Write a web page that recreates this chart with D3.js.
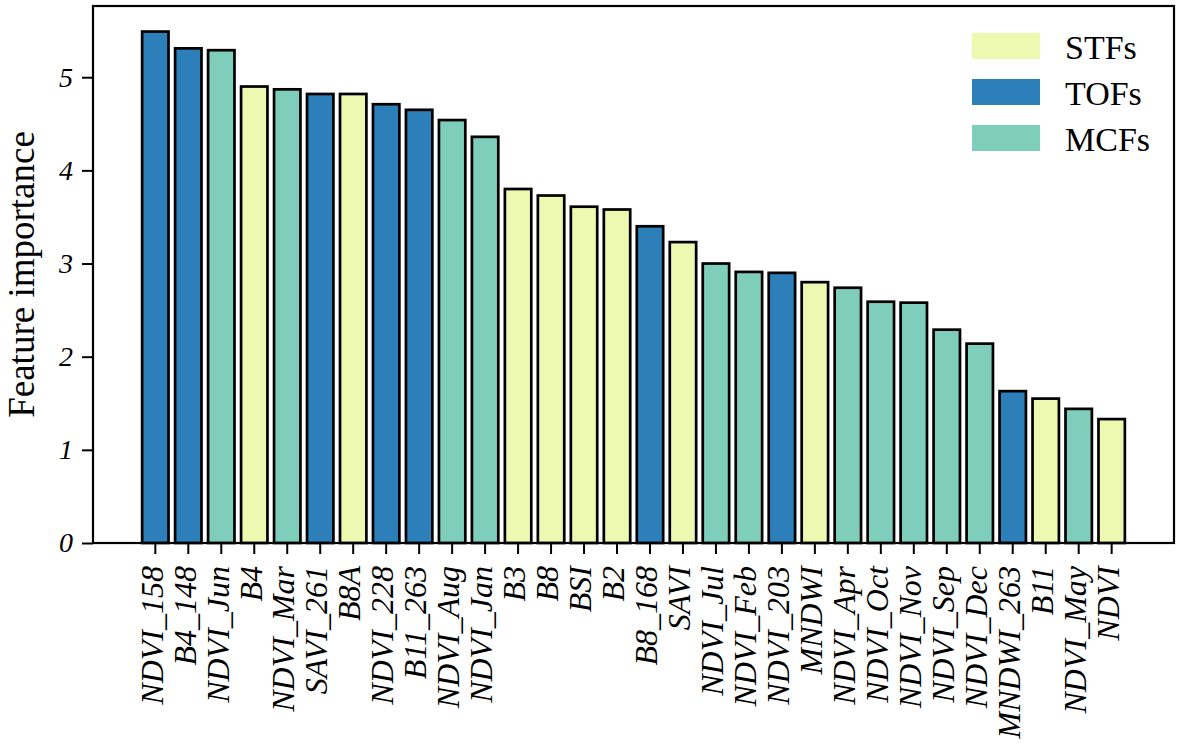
<!DOCTYPE html>
<html>
<head>
<meta charset="utf-8">
<script src="https://cdn.jsdelivr.net/npm/d3@7"></script>
<style>
  body { margin: 0; background: #fff; }
  svg { display: block; font-family: "Liberation Serif", "Times New Roman", serif; }
</style>
</head>
<body>
<svg id="chart"></svg>
<script>
// 1. Data
const features = [
  "NDVI_158", "B4_148", "NDVI_Jun", "B4", "NDVI_Mar", "SAVI_261", "B8A", "NDVI_228",
  "B11_263", "NDVI_Aug", "NDVI_Jan", "B3", "B8", "BSI", "B2", "B8_168", "SAVI",
  "NDVI_Jul", "NDVI_Feb", "NDVI_203", "MNDWI", "NDVI_Apr", "NDVI_Oct", "NDVI_Nov",
  "NDVI_Sep", "NDVI_Dec", "MNDWI_263", "B11", "NDVI_May", "NDVI"
]
const importance = [
  5.49, 5.31, 5.29, 4.90, 4.87, 4.82, 4.82, 4.71,
  4.65, 4.54, 4.36, 3.80, 3.73, 3.61, 3.58, 3.40, 3.23,
  3.00, 2.91, 2.90, 2.80, 2.74, 2.59, 2.58,
  2.29, 2.14, 1.63, 1.55, 1.44, 1.33
]
const groups = [
  "TOFs", "TOFs", "MCFs", "STFs", "MCFs", "TOFs", "STFs", "TOFs",
  "TOFs", "MCFs", "MCFs", "STFs", "STFs", "STFs", "STFs", "TOFs", "STFs",
  "MCFs", "MCFs", "TOFs", "STFs", "MCFs", "MCFs", "MCFs",
  "MCFs", "MCFs", "TOFs", "STFs", "MCFs", "STFs"
]
const legendGroups = ["STFs", "TOFs", "MCFs"]
const yTicks = [0, 1, 2, 3, 4, 5]

const dataset = features.map((f, i) => ({ feature: f, value: importance[i], group: groups[i] }))
const xAccessor = d => d.feature
const yAccessor = d => d.value

// 2. Dimensions
let dimensions = {
  width: 1181,
  height: 746,
  margin: { top: 6, right: 7, bottom: 203, left: 93 },
}
dimensions.boundedWidth = dimensions.width - dimensions.margin.left - dimensions.margin.right
dimensions.boundedHeight = dimensions.height - dimensions.margin.top - dimensions.margin.bottom

// 3. Canvas
const svg = d3.select("#chart")
  .attr("width", dimensions.width)
  .attr("height", dimensions.height)

const bounds = svg.append("g")
  .attr("transform", `translate(${dimensions.margin.left}, ${dimensions.margin.top})`)

// 4. Scales
const xScale = d3.scaleBand()
  .domain(features)
  .range([0, dimensions.boundedWidth])
  .paddingInner(0.2)
  .paddingOuter(1.49)

const yScale = d3.scaleLinear()
  .domain([0, d3.max(importance) * 1.05])
  .range([dimensions.boundedHeight, 0])

const colorScale = d3.scaleOrdinal()
  .domain(legendGroups)
  .range(["#edf8b1", "#2c7fb8", "#7fcdbb"])

// 5. Bars
bounds.selectAll("rect.bar")
  .data(dataset)
  .join("rect")
  .attr("class", "bar")
  .attr("x", d => xScale(xAccessor(d)))
  .attr("width", xScale.bandwidth())
  .attr("y", d => yScale(yAccessor(d)))
  .attr("height", d => dimensions.boundedHeight - yScale(yAccessor(d)))
  .attr("fill", d => colorScale(d.group))
  .attr("stroke", "#000")
  .attr("stroke-width", 2.7)

// 6. Axes
const xAxis = bounds.append("g")
  .attr("transform", `translate(0, ${dimensions.boundedHeight})`)
  .call(d3.axisBottom(xScale).tickSizeOuter(0).tickSize(11).tickPadding(12))
xAxis.select(".domain").remove()
xAxis.selectAll("line").attr("stroke-width", 2)
xAxis.selectAll("text")
  .attr("font-size", 32)
  .attr("font-style", "italic")
  .attr("font-family", "Liberation Serif")
  .attr("fill", "#000")
  .attr("text-anchor", "end")
  .attr("dy", "0.32em")
  .attr("transform", "translate(-3, 23) rotate(-90)")
  .attr("x", 0)
  .attr("y", 0)

const yAxis = bounds.append("g")
  .call(d3.axisLeft(yScale).tickValues(yTicks).tickFormat(d3.format("d"))
    .tickSizeOuter(0).tickSize(11).tickPadding(9))
yAxis.select(".domain").remove()
yAxis.selectAll("line").attr("stroke-width", 2)
yAxis.selectAll("text")
  .attr("font-size", 28)
  .attr("font-style", "italic")
  .attr("font-family", "Liberation Serif")
  .attr("fill", "#000")

// frame
bounds.append("rect")
  .attr("width", dimensions.boundedWidth)
  .attr("height", dimensions.boundedHeight)
  .attr("fill", "none")
  .attr("stroke", "#000")
  .attr("stroke-width", 2.2)

svg.append("text")
  .attr("transform", `translate(34, ${dimensions.margin.top + dimensions.boundedHeight / 2}) rotate(-90)`)
  .attr("text-anchor", "middle")
  .attr("font-size", 37)
  .text("Feature importance")

// 7. Legend
const legend = svg.append("g")
  .attr("transform", "translate(972, 33)")
const legendItems = legend.selectAll("g")
  .data(legendGroups)
  .join("g")
  .attr("transform", (d, i) => `translate(0, ${i * 46})`)
legendItems.append("rect")
  .attr("width", 68)
  .attr("height", 26)
  .attr("fill", d => colorScale(d))
legendItems.append("text")
  .attr("x", 93)
  .attr("y", 26)
  .attr("font-size", 34)
  .text(d => d)
</script>
</body>
</html>
